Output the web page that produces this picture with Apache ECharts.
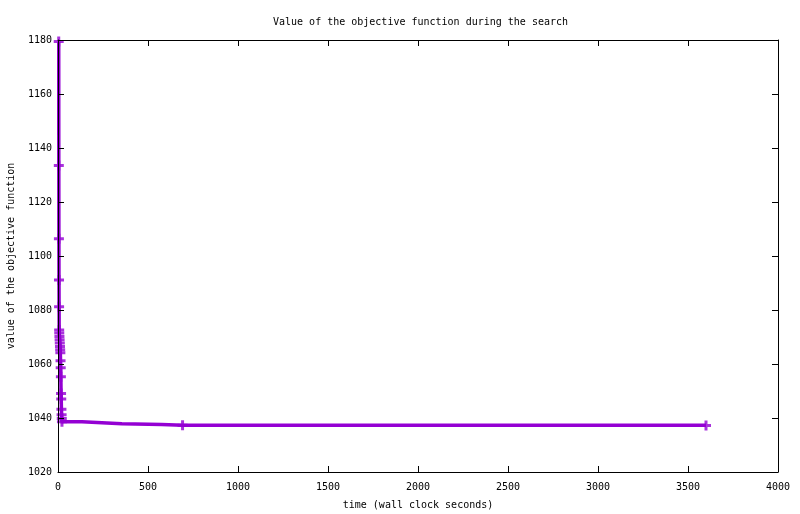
<!DOCTYPE html>
<html>
<head>
<meta charset="utf-8">
<script src="https://cdn.jsdelivr.net/npm/echarts@6/dist/echarts.min.js"></script>
<style>
  html, body { margin: 0; padding: 0; background: #fff; }
  #chart { width: 800px; height: 514px; }
</style>
</head>
<body>
<div id="chart"></div>
<script>
// search trace: time (s) and objective value
const traceTimes = [4, 4.5, 5, 5.5, 6, 6.5, 7, 8, 9, 10, 11, 12, 13, 14, 15, 16, 17, 18, 19, 20, 21, 22, 133, 355, 576, 692, 3600]
const traceValues = [1179.4, 1133.5, 1106.4, 1091.1, 1081.2, 1072.6, 1071.5, 1070.2, 1069, 1067.8, 1066.5, 1065.3, 1064.2, 1061.2, 1058.6, 1055.3, 1049.1, 1047, 1043.2, 1041.2, 1039.8, 1038.6, 1037.9, 1037.6, 1037.3, 1037.3, 1037.2]
// points that carry a marker
const markTimes = [4, 4.5, 5, 5.5, 6, 6.5, 7, 8, 9, 10, 11, 12, 13, 14, 15, 16, 17, 18, 19, 20, 21, 22, 692, 3600]
const markValues = [1179.4, 1133.5, 1106.4, 1091.1, 1081.2, 1072.6, 1071.5, 1070.2, 1069, 1067.8, 1066.5, 1065.3, 1064.2, 1061.2, 1058.6, 1055.3, 1049.1, 1047, 1043.2, 1041.2, 1039.8, 1038.6, 1037.3, 1037.2]

const xMin = 0, xMax = 4000, xStep = 500
const yMin = 1020, yMax = 1180, yStep = 20

const font = 'DejaVu Sans Mono'
const violet = '#9400d3'
const plus = 'path://M3.5,0H6.5V3.5H10V6.5H6.5V10H3.5V6.5H0V3.5H3.5Z'

const chart = echarts.init(document.getElementById('chart'), null, { renderer: 'canvas' })

// shared look of the boxed gnuplot-like axes
const boxAxis = (extra) => Object.assign({
    type: 'value',
    z: 5,
    splitLine: { show: false },
    axisLine: { show: true, onZero: false, lineStyle: { color: '#000', width: 1 } },
    axisTick: { show: true, inside: true, length: 6, lineStyle: { color: '#000' } }
}, extra)

// plain numbers, no thousands separator
const plain = v => String(v)

chart.setOption({
    backgroundColor: '#ffffff',
    animation: false,
    textStyle: { fontFamily: font },
    title: {
        text: 'Value of the objective function during the search',
        left: 268,
        top: 12,
        textStyle: { fontFamily: font, fontSize: 10, fontWeight: 'normal', color: '#000' }
    },
    grid: { left: 58, right: 22, top: 40, bottom: 42, outerBoundsMode: 'none', show: false },
    xAxis: [
        boxAxis({
            position: 'bottom',
            min: xMin, max: xMax, interval: xStep,
            name: 'time (wall clock seconds)',
            nameLocation: 'middle',
            nameGap: 28,
            nameTextStyle: { fontFamily: font, fontSize: 10, color: '#000' },
            axisLabel: { fontFamily: font, fontSize: 10, color: '#000', margin: 10, formatter: plain }
        }),
        boxAxis({
            position: 'top',
            min: xMin, max: xMax, interval: xStep,
            axisLabel: { show: false }
        })
    ],
    yAxis: [
        boxAxis({
            position: 'left',
            min: yMin, max: yMax, interval: yStep,
            name: 'value of the objective function',
            nameLocation: 'middle',
            nameRotate: 90,
            nameGap: 42,
            nameTextStyle: { fontFamily: font, fontSize: 10, color: '#000' },
            axisLabel: { fontFamily: font, fontSize: 10, color: '#000', margin: 6, formatter: plain }
        }),
        boxAxis({
            position: 'right',
            min: yMin, max: yMax, interval: yStep,
            axisLabel: { show: false }
        })
    ],
    series: [
        {
            name: 'trace',
            type: 'line',
            step: 'end',
            xAxisIndex: 0,
            yAxisIndex: 0,
            z: 2,
            showSymbol: false,
            lineStyle: { color: violet, width: 3.5 },
            data: traceTimes.map((t, i) => [t, traceValues[i]])
        },
        {
            name: 'points',
            type: 'scatter',
            xAxisIndex: 0,
            yAxisIndex: 0,
            z: 3,
            symbol: plus,
            symbolSize: 10,
            itemStyle: { color: violet },
            data: markTimes.map((t, i) => [t, markValues[i]])
        }
    ]
})
</script>
</body>
</html>
